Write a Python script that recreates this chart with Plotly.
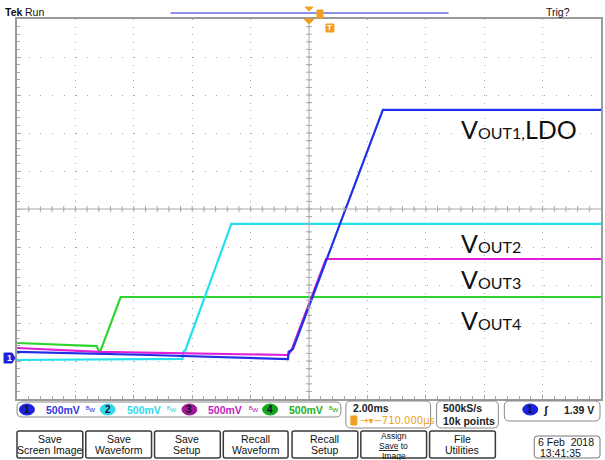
import plotly.graph_objects as go

# ---------------- data (time in ms from left edge, volts) ----------------
t_ch1 = [0.0, 4.54, 9.28, 9.30, 9.45, 12.53, 20.0]
v_ch1 = [0.044, 0.004, -0.049, 0.044, 0.083, 3.228, 3.228]
t_ch2 = [0.0, 5.67, 5.70, 5.77, 7.34, 20.0]
v_ch2 = [-0.062, -0.046, 0.05, 0.07, 1.728, 1.728]
t_ch3 = [0.0, 2.83, 9.28, 9.39, 10.58, 20.0]
v_ch3 = [0.096, 0.044, 0.004, 0.057, 1.267, 1.267]
t_ch4 = [0.0, 2.73, 2.83, 3.55, 20.0]
v_ch4 = [0.162, 0.122, 0.03, 0.767, 0.767]

channel_names = ["1", "2", "3", "4"]
channel_scale = ["500mV", "500mV", "500mV", "500mV"]
label_texts = ["OUT1,", "OUT2", "OUT3", "OUT4"]
buttons = [["Save", "Screen Image"], ["Save", "Waveform"], ["Save", "Setup"],
           ["Recall", "Waveform"], ["Recall", "Setup"], ["Assign", "<u>Save</u> to", "Image"],
           ["File", "Utilities"]]
timebase = "2.00ms"
hpos = "−710.000µs"
rate = ["500kS/s", "10k points"]
trig_level = "1.39 V"
date_text = ["6 Feb  2018", "13:41:35"]

# ---------------- layout geometry ----------------
W, H = 605, 460
L, R, T, B = 17, 603, 19, 399
XR = [0, 20]
V_PER_DIV = 0.5
GND_DIV = -3.85
YR = [(-5 - GND_DIV) * V_PER_DIV, (5 - GND_DIV) * V_PER_DIV]
YC = (YR[0] + YR[1]) / 2


def px(x):
    return (x - L) / (R - L)


def py(y):
    return (B - y) / (B - T)


COL = {"1": "#2030e8", "2": "#25e0ee", "3": "#e020d8", "4": "#2ed42e"}
BADGE = {"1": "#1a22e0", "2": "#30d8e8", "3": "#a0179e", "4": "#10a818"}
TXT = {"1": "#3038e0", "2": "#30d8e8", "3": "#c024c0", "4": "#22b022"}
ORANGE = "#f0a020"
GRID = "#a8a8a8"

fig = go.Figure()
for name, t, v in [("4", t_ch4, v_ch4), ("2", t_ch2, v_ch2), ("3", t_ch3, v_ch3), ("1", t_ch1, v_ch1)]:
    fig.add_trace(go.Scatter(x=t, y=v, mode="lines", line=dict(color=COL[name], width=2.2),
                             hoverinfo="skip", showlegend=False))

shapes = []
ann = []

# centre cross lines with subdivision ticks
shapes.append(dict(type="line", xref="x", yref="y", x0=XR[0], x1=XR[1], y0=YC, y1=YC,
                   line=dict(color=GRID, width=1)))
shapes.append(dict(type="line", xref="x", yref="y", x0=10, x1=10, y0=YR[0], y1=YR[1],
                   line=dict(color=GRID, width=1)))
for i in range(1, 50):
    xv = i * 0.4
    shapes.append(dict(type="line", xref="x", yref="y", ysizemode="pixel", yanchor=YC,
                       x0=xv, x1=xv, y0=-3, y1=3, line=dict(color=GRID, width=1)))
for i in range(1, 50):
    yv = YR[0] + i * 0.1
    shapes.append(dict(type="line", xref="x", yref="y", xsizemode="pixel", xanchor=10,
                       y0=yv, y1=yv, x0=-3, x1=3, line=dict(color=GRID, width=1)))


def rrect(x0, y0, x1, y1, r, color, width=1, fill="rgba(0,0,0,0)"):
    a0, a1 = px(x0), px(x1)
    b0, b1 = py(y0), py(y1)
    rx = r / (R - L)
    ry = r / (B - T)
    p = (f"M{a0+rx},{b0} L{a1-rx},{b0} Q{a1},{b0} {a1},{b0-ry} L{a1},{b1+ry} "
         f"Q{a1},{b1} {a1-rx},{b1} L{a0+rx},{b1} Q{a0},{b1} {a0},{b1+ry} "
         f"L{a0},{b0-ry} Q{a0},{b0} {a0+rx},{b0} Z")
    shapes.append(dict(type="path", xref="paper", yref="paper", path=p,
                       line=dict(color=color, width=width), fillcolor=fill, layer="above"))


def text(x, y, s, size=11, color="#111", xanchor="center", bold=False, family="Liberation Sans"):
    ann.append(dict(xref="paper", yref="paper", x=px(x), y=py(y), text=(f"<b>{s}</b>" if bold else s),
                    showarrow=False, xanchor=xanchor, yanchor="middle",
                    font=dict(size=size, color=color, family=family)))


def badge(xc, yc, name, w=15, h=11):
    shapes.append(dict(type="circle", xref="paper", yref="paper",
                       x0=px(xc - w / 2), x1=px(xc + w / 2), y0=py(yc + h / 2), y1=py(yc - h / 2),
                       fillcolor=BADGE[name], line=dict(color=BADGE[name], width=1), layer="above"))
    text(xc, yc, name, size=10, color="#101030" if name != "3" else "#101010", bold=True)


# header
text(3, 12, "Tek", size=10.5, xanchor="left", bold=True, family="Liberation Sans")
text(23, 12, "Run", size=10.5, xanchor="left")
text(546, 12, "Trig?", size=10.5, xanchor="left")
shapes.append(dict(type="line", xref="paper", yref="paper", x0=px(171), x1=px(450), y0=py(13), y1=py(13),
                   line=dict(color="#6a6ae0", width=1.3)))
shapes.append(dict(type="path", xref="paper", yref="paper",
                   path=f"M{px(306)},{py(7)} L{px(314)},{py(7)} L{px(310)},{py(11)} Z",
                   fillcolor=ORANGE, line=dict(color=ORANGE, width=1)))
shapes.append(dict(type="rect", xref="paper", yref="paper", x0=px(318), x1=px(324), y0=py(10), y1=py(18),
                   fillcolor=ORANGE, line=dict(color=ORANGE, width=1)))
shapes.append(dict(type="path", xref="paper", yref="paper",
                   path=f"M{px(305)},{py(19)} L{px(315)},{py(19)} L{px(310)},{py(24)} Z",
                   fillcolor=ORANGE, line=dict(color=ORANGE, width=1)))
shapes.append(dict(type="rect", xref="paper", yref="paper", x0=px(327), x1=px(335), y0=py(24), y1=py(32),
                   fillcolor=ORANGE, line=dict(color=ORANGE, width=1)))
text(331, 28, "T", size=8, color="#ffffff", bold=True)

# ground marker for channel 1
shapes.append(dict(type="path", xref="paper", yref="paper",
                   path=f"M{px(4)},{py(353)} L{px(12)},{py(353)} L{px(15)},{py(358)} L{px(12)},{py(363)} L{px(4)},{py(363)} Z",
                   fillcolor=BADGE["1"], line=dict(color=BADGE["1"], width=1), layer="above"))
text(9, 358, "1", size=9, color="#ffffff", bold=True)

# waveform labels
ys = [129, 243, 279, 320]
for lab, yv in zip(label_texts, ys):
    extra = "LDO" if lab == "OUT1," else ""
    ann.append(dict(xref="paper", yref="paper", x=px(461), y=py(yv),
                    text=f"V<span style='font-size:16px'>{lab}</span>{extra}",
                    showarrow=False, xanchor="left", yanchor="middle",
                    font=dict(size=25, color="#111111", family="Lato")))

# status row
rrect(17, 402, 342, 417, 5, "#8a8a8a")
bx = [27, 108, 190, 271]
for i, name in enumerate(channel_names):
    badge(bx[i], 409.5, name)
    text(bx[i] + 17, 409.5, channel_scale[i], size=10.5, color=TXT[name], xanchor="left", bold=True)
    text(bx[i] + 64, 409.5, "ᴮw", size=8, color=TXT[name])
rrect(347, 401, 432, 428, 5, "#8a8a8a")
text(352, 408, timebase, size=10.5, xanchor="left", bold=True, color="#222")
shapes.append(dict(type="rect", xref="paper", yref="paper", x0=px(352), x1=px(358), y0=py(416), y1=py(425),
                   fillcolor=ORANGE, line=dict(color=ORANGE, width=1)))
text(359, 420.5, "→▾" + hpos, size=10, xanchor="left", color=ORANGE, family="DejaVu Sans")
rrect(438, 401, 500, 428, 5, "#8a8a8a")
text(442, 408, rate[0], size=10.5, xanchor="left", bold=True, color="#222")
text(442, 420.5, rate[1], size=10.5, xanchor="left", bold=True, color="#222")
rrect(506, 401, 602, 421, 5, "#8a8a8a")
badge(532, 409.5, "1")
text(548, 409.5, "ʃ", size=11, color="#111", bold=True)
text(598, 409.5, trig_level, size=10.5, xanchor="right", bold=True, color="#222")

# buttons
bxs = [(17, 83), (86, 152), (155, 221), (224, 289), (293, 359), (362, 428), (431, 497)]
for (x0, x1), lines in zip(bxs, buttons):
    rrect(x0, 431, x1, 458, 2, "#3a3a3a", width=1.5)
    n = len(lines)
    step = 11.5 if n == 2 else 10
    yc = 444.5 if n == 2 else 445.5
    y0 = yc - step * (n - 1) / 2
    for k, s in enumerate(lines):
        text((x0 + x1) / 2, y0 + k * step, s, size=10.5 if n == 2 else 8.5, color="#111")

rrect(536, 436, 602, 458, 3, "#777")
text(598, 441.5, date_text[0], size=10.5, xanchor="right", color="#111")
text(540, 452.5, date_text[1], size=10.5, xanchor="left", color="#111")

fig.update_layout(
    width=W, height=H,
    margin=dict(l=L, r=W - R, t=T, b=H - B, pad=0),
    paper_bgcolor="white", plot_bgcolor="white",
    shapes=shapes, annotations=ann,
    xaxis=dict(range=XR, dtick=2, tick0=0, showgrid=True, gridcolor=GRID, gridwidth=1,
               griddash="1px,6.6px", zeroline=False, showticklabels=False,
               showline=True, linecolor="#9a9a9a", linewidth=1.5, mirror=True,
               ticks="inside", ticklen=4, tickcolor=GRID,
               minor=dict(dtick=0.4, ticks="inside", ticklen=3, tickcolor=GRID, showgrid=False)),
    yaxis=dict(range=YR, dtick=0.5, tick0=YR[0], showgrid=True, gridcolor=GRID, gridwidth=1,
               griddash="1px,10.72px", zeroline=False, showticklabels=False,
               showline=True, linecolor="#9a9a9a", linewidth=1.5, mirror=True,
               ticks="inside", ticklen=4, tickcolor=GRID,
               minor=dict(dtick=0.1, tick0=YR[0], ticks="inside", ticklen=3, tickcolor=GRID, showgrid=False)),
)

fig.write_html("out.html", config={"displayModeBar": False},
               post_script="document.body.style.margin='0';document.body.style.padding='0';"
                           "document.documentElement.style.overflow='hidden';")
